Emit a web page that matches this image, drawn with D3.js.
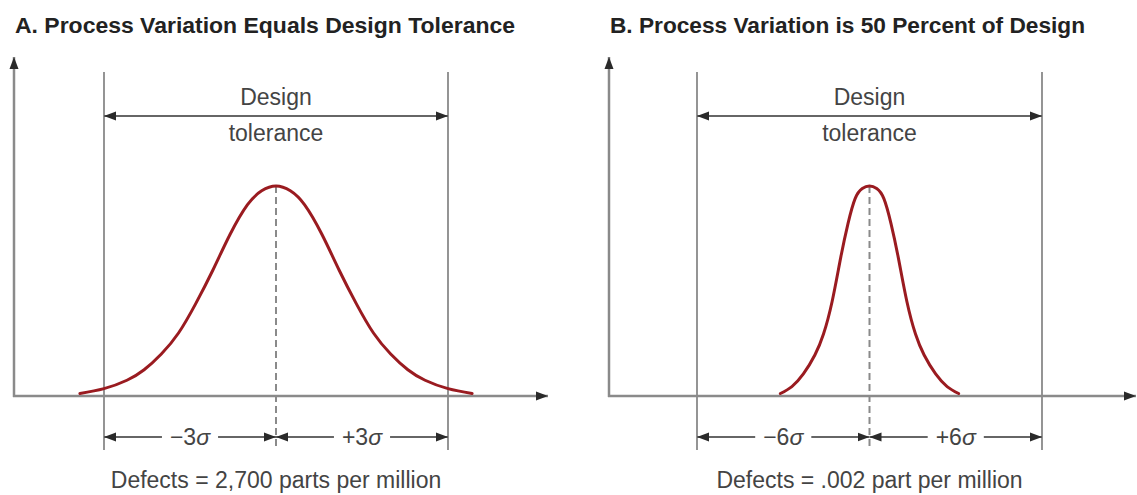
<!DOCTYPE html>
<html>
<head>
<meta charset="utf-8">
<script src="https://cdn.jsdelivr.net/npm/d3@7"></script>
<style>
  body { margin: 0; background: #fff; }
  svg { display: block; font-family: "Liberation Sans", Arial, sans-serif; }
</style>
</head>
<body>
<div id="chart"></div>
<script>
// Panel texts
const titles = ["A. Process Variation Equals Design Tolerance", "B. Process Variation is 50 Percent of Design"];
const tolSigma = [3, 6]; // design tolerance half-width, in sigmas of each process
const sigmaLabels = [["\u22123", "+3"], ["\u22126", "+6"]];
const defectsLabels = ["Defects = 2,700 parts per million", "Defects = .002 part per million"];

// Curves (x in sigma units of the panel, y relative to peak)
const curveAx = [-3.42, -3.0, -2.6, -2.3, -2.0, -1.7, -1.4, -1.1, -0.8, -0.5, -0.25, 0, 0.25, 0.5, 0.8, 1.1, 1.4, 1.7, 2.0, 2.3, 2.6, 3.0, 3.42];
const curveAy = [0.012, 0.035, 0.075, 0.125, 0.2, 0.3, 0.44, 0.6, 0.77, 0.91, 0.977, 1, 0.977, 0.91, 0.77, 0.6, 0.44, 0.3, 0.2, 0.125, 0.075, 0.035, 0.012];
const curveBx = [-3.1, -2.7, -2.3, -1.9, -1.6, -1.3, -1.0, -0.75, -0.5, -0.25, 0, 0.25, 0.5, 0.75, 1.0, 1.3, 1.6, 1.9, 2.3, 2.7, 3.1];
const curveBy = [0.012, 0.045, 0.105, 0.195, 0.295, 0.45, 0.66, 0.82, 0.94, 0.988, 1, 0.988, 0.94, 0.82, 0.66, 0.45, 0.295, 0.195, 0.105, 0.045, 0.012];
const curves = [d3.zip(curveAx, curveAy), d3.zip(curveBx, curveBy)];

const W = 1137, H = 495;
const panels = [
  { left: 14, tolL: 104, tolR: 448, axisEnd: 548, titleX: 15, titleW: 500 },
  { left: 609, tolL: 697, tolR: 1042, axisEnd: 1136, titleX: 610, titleW: 475 }
];

const svg = d3.select("#chart").append("svg")
  .attr("width", W).attr("height", H);

const defs = svg.append("defs");
defs.append("marker")
  .attr("id", "head")
  .attr("viewBox", "0 -5 12 10")
  .attr("refX", 12).attr("refY", 0)
  .attr("markerUnits", "userSpaceOnUse")
  .attr("markerWidth", 12).attr("markerHeight", 10)
  .attr("orient", "auto-start-reverse")
  .append("path").attr("d", "M0,-4.5L12,0L0,4.5Z").attr("fill", "#2a2a2a");

const y = d3.scaleLinear().domain([0, 1]).range([396, 186]);
const baseY = y(0);

panels.forEach((p, i) => {
  const g = svg.append("g");
  const x = d3.scaleLinear().domain([-tolSigma[i], tolSigma[i]]).range([p.tolL, p.tolR]);
  const cx = x(0);

  // title
  g.append("text")
    .attr("x", p.titleX).attr("y", 33)
    .attr("textLength", p.titleW).attr("lengthAdjust", "spacingAndGlyphs")
    .style("font-size", "22px").style("font-weight", "bold").style("fill", "#222")
    .text(titles[i]);

  // tolerance limits
  [x(-tolSigma[i]), x(tolSigma[i])].forEach(v => {
    g.append("line")
      .attr("x1", v).attr("x2", v).attr("y1", 72).attr("y2", 450)
      .attr("stroke", "#7a7a7a").attr("stroke-width", 1.6);
  });

  // axes
  g.append("line")
    .attr("x1", p.left).attr("x2", p.left).attr("y1", baseY + 1).attr("y2", 57)
    .attr("stroke", "#8a8a8a").attr("stroke-width", 2.5)
    .attr("marker-end", "url(#head)");
  g.append("line")
    .attr("x1", p.left - 1).attr("x2", p.axisEnd).attr("y1", baseY).attr("y2", baseY)
    .attr("stroke", "#8a8a8a").attr("stroke-width", 2.5)
    .attr("marker-end", "url(#head)");

  // center dashed line
  g.append("line")
    .attr("x1", cx).attr("x2", cx).attr("y1", y(1)).attr("y2", 450)
    .attr("stroke", "#8a8a8a").attr("stroke-width", 2)
    .attr("stroke-dasharray", "7,4");

  // curve
  const line = d3.line()
    .x(d => x(d[0]))
    .y(d => y(d[1]))
    .curve(d3.curveNatural);
  g.append("path")
    .datum(curves[i])
    .attr("fill", "none")
    .attr("stroke", "#9a1b20")
    .attr("stroke-width", 3)
    .attr("stroke-linecap", "round")
    .attr("d", line);

  // design tolerance arrow
  g.append("line")
    .attr("x1", x(-tolSigma[i])).attr("x2", x(tolSigma[i]))
    .attr("y1", 116).attr("y2", 116)
    .attr("stroke", "#666").attr("stroke-width", 2)
    .attr("marker-start", "url(#head)").attr("marker-end", "url(#head)");
  g.append("text").attr("x", cx).attr("y", 105)
    .attr("text-anchor", "middle").style("font-size", "23px").style("fill", "#444")
    .text("Design");
  g.append("text").attr("x", cx).attr("y", 141)
    .attr("text-anchor", "middle").style("font-size", "23px").style("fill", "#444")
    .text("tolerance");

  // sigma arrows
  const arrowY = 437;
  [[-tolSigma[i], 0], [0, tolSigma[i]]].forEach((seg, k) => {
    const a = x(seg[0]), b = x(seg[1]);
    const mid = (a + b) / 2;
    const t = g.append("text")
      .attr("x", mid).attr("y", arrowY + 8)
      .attr("text-anchor", "middle").style("font-size", "23px").style("fill", "#444");
    t.append("tspan").text(sigmaLabels[i][k]);
    t.append("tspan").style("font-style", "italic").text("\u03c3");
    const half = t.node().getComputedTextLength() / 2 + 8;
    g.append("line")
      .attr("x1", mid - half).attr("x2", a).attr("y1", arrowY).attr("y2", arrowY)
      .attr("stroke", "#666").attr("stroke-width", 2)
      .attr("marker-end", "url(#head)");
    g.append("line")
      .attr("x1", mid + half).attr("x2", b).attr("y1", arrowY).attr("y2", arrowY)
      .attr("stroke", "#666").attr("stroke-width", 2)
      .attr("marker-end", "url(#head)");
  });

  // defects note
  g.append("text").attr("x", cx).attr("y", 488)
    .attr("text-anchor", "middle").style("font-size", "23px").style("fill", "#444")
    .text(defectsLabels[i]);
});
</script>
</body>
</html>
